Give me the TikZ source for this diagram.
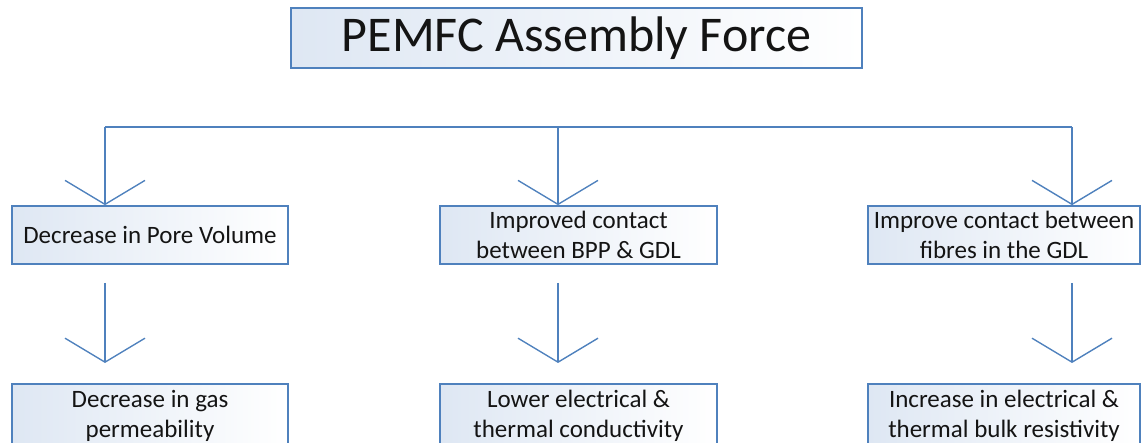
\documentclass[tikz,border=0pt]{standalone}
\usepackage{fontspec}
\setmainfont{Carlito}
\usetikzlibrary{arrows.meta}
\definecolor{boxblue}{RGB}{79,129,189}
\definecolor{fillblue}{RGB}{222,231,243}
\definecolor{txt}{RGB}{20,20,20}
\tikzset{
  box/.style={draw=boxblue, line width=1.6pt, left color=fillblue, right color=white,
    minimum height=58pt, align=center, inner sep=1pt, text=txt,
    font=\fontsize{25}{30}\selectfont},
  conn/.style={draw=boxblue, line width=1.6pt},
  vtip/.style={conn, -{Straight Barb[length=24pt, width=80pt, line width=1.4pt]}}
}
\begin{document}
\begin{tikzpicture}[x=1pt,y=1pt]
\useasboundingbox (0,0) rectangle (1142,443);
\clip (0,0) rectangle (1142,443);
\node[box, minimum width=571pt, minimum height=60pt, font=\fontsize{50}{56}\selectfont] (title) at (576.5,405) {PEMFC Assembly Force};
\node[box, minimum width=276pt] (b1) at (150,208) {Decrease in Pore Volume};
\node[box, minimum width=277pt] (b2) at (578.5,208) {Improved contact\\between BPP \& GDL};
\node[box, minimum width=272pt] (b3) at (1004,208) {Improve contact between\\fibres in the GDL};
\node[box, minimum width=276pt, minimum height=64pt, anchor=north] (c1) at (150,60) {Decrease in gas\\permeability};
\node[box, minimum width=277pt, minimum height=64pt, anchor=north] (c2) at (578.5,60) {Lower electrical \&\\thermal conductivity};
\node[box, minimum width=272pt, minimum height=64pt, anchor=north] (c3) at (1004,60) {Increase in electrical \&\\thermal bulk resistivity};
\coordinate (h1) at (105,316);
\coordinate (h2) at (558,316);
\coordinate (h3) at (1072,316);
\draw[conn] (h1) -- (h3);
\draw[vtip] (h1) -- (h1 |- b1.north);
\draw[vtip] (h2) -- (h2 |- b2.north);
\draw[vtip] (h3) -- (h3 |- b3.north);
\coordinate (s1) at (105,160);
\coordinate (s2) at (558,160);
\coordinate (s3) at (1072,160);
\draw[vtip, shorten >=20pt] (s1) -- (s1 |- c1.north);
\draw[vtip, shorten >=20pt] (s2) -- (s2 |- c2.north);
\draw[vtip, shorten >=20pt] (s3) -- (s3 |- c3.north);
\end{tikzpicture}
\end{document}
